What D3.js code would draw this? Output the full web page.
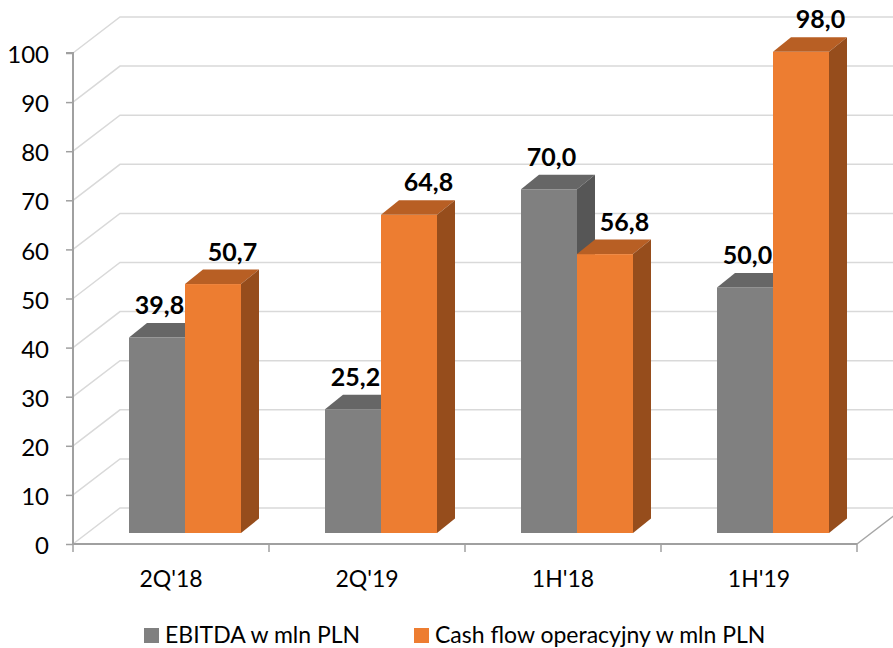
<!DOCTYPE html>
<html><head><meta charset="utf-8">
<script src="https://cdn.jsdelivr.net/npm/d3@7"></script>
<style>html,body{margin:0;padding:0;background:#fff;}svg{display:block;}</style>
</head><body>
<script>
const categories = ["2Q'18", "2Q'19", "1H'18", "1H'19"];
const seriesNames = ["EBITDA w mln PLN", "Cash flow operacyjny w mln PLN"];
const ebitda = [39.8, 25.2, 70.0, 50.0];
const cashFlow = [50.7, 64.8, 56.8, 98.0];
const yTicks = [0, 10, 20, 30, 40, 50, 60, 70, 80, 90, 100];

const W = 893, H = 648;
const font = "Lato, 'Open Sans', sans-serif";
const colors = [
  {front: "#808080", top: "#666666", side: "#565656"},
  {front: "#ed7d31", top: "#b85f24", side: "#964d1c"}
];
const series = [ebitda, cashFlow];

const svg = d3.select("body").append("svg").attr("width", W).attr("height", H);

// geometry
const axisX = 73, floorY = 544;
const depthDX = 47, depthDY = -36;     // back wall offset
const barDX = 14, barDY = -11;         // bar plane offset
const barDepthX = 18, barDepthY = -14.5; // bar thickness

const y = d3.scaleLinear().domain([0, 100]).range([floorY, 53]);
const x0 = d3.scaleBand().domain(categories).range([axisX, 857])
  .paddingInner(84/196).paddingOuter(42/196);
const x1 = d3.scaleBand().domain(seriesNames).range([0, x0.bandwidth()]);

// gridlines: left wall diagonal + back wall
const grid = svg.append("g");
yTicks.forEach(t => {
  const yy = y(t);
  grid.append("polyline")
    .attr("points", `${axisX},${yy} ${axisX+depthDX},${yy+depthDY} ${W+5},${yy+depthDY}`)
    .attr("fill", "none").attr("stroke", "#d9d9d9").attr("stroke-width", 1.5);
});
// floor right edge
grid.append("line").attr("x1", 857).attr("y1", floorY).attr("x2", 857+depthDX).attr("y2", floorY+depthDY)
  .attr("stroke", "#a6a6a6").attr("stroke-width", 1.5);

// bars
const bars = svg.append("g");
categories.forEach((c, i) => {
  seriesNames.forEach((s, j) => {
    const v = series[j][i];
    const col = colors[j];
    const bx = x0(c) + x1(s) + barDX;
    const bw = x1.bandwidth();
    const top = y(v) + barDY;
    const bot = y(0) + barDY;
    bars.append("rect").attr("x", bx).attr("y", top).attr("width", bw).attr("height", bot - top).attr("fill", col.front);
    bars.append("polygon")
      .attr("points", `${bx},${top} ${bx+barDepthX},${top+barDepthY} ${bx+bw+barDepthX},${top+barDepthY} ${bx+bw},${top}`)
      .attr("fill", col.top);
    bars.append("polygon")
      .attr("points", `${bx+bw},${top} ${bx+bw+barDepthX},${top+barDepthY} ${bx+bw+barDepthX},${bot+barDepthY} ${bx+bw},${bot}`)
      .attr("fill", col.side);
  });
});

// axes
const yAxis = d3.axisLeft(y).tickValues(yTicks).tickSize(7).tickPadding(17).tickFormat(d3.format("d"));
const gy = svg.append("g").attr("transform", `translate(${axisX},0)`).call(yAxis);
gy.select(".domain").attr("stroke", "#a0a0a0").attr("stroke-width", 2).attr("d", `M-7,${y(100)}H0V${floorY}`);
gy.selectAll(".tick line").attr("stroke", "#a0a0a0").attr("stroke-width", 1.5);
gy.selectAll(".tick text").attr("font-family", font).attr("font-size", 24).attr("fill", "#000").attr("dy", "0.4em");

const xAxis = d3.axisBottom(x0).tickSize(0).tickPadding(27);
const gx = svg.append("g").attr("transform", `translate(0,${floorY})`).call(xAxis);
gx.select(".domain").attr("stroke", "#a0a0a0").attr("stroke-width", 2).attr("d", `M${axisX},0H857`);
gx.selectAll(".tick text").attr("font-family", font).attr("font-size", 23).attr("fill", "#000");
const bounds = categories.map(c => x0(c) - x0.step()*x0.paddingOuter()).concat([857]);
gx.selectAll(".btick").data(bounds).enter().append("line")
  .attr("x1", d => d).attr("x2", d => d).attr("y1", 0).attr("y2", 8)
  .attr("stroke", "#a0a0a0").attr("stroke-width", 1.5);

// value labels
const labelShift = [2.5, 19.5];
const fmt = v => v.toFixed(1).replace(".", ",");
const labels = svg.append("g");
categories.forEach((c, i) => {
  seriesNames.forEach((s, j) => {
    const v = series[j][i];
    const bx = x0(c) + x1(s) + barDX;
    const top = y(v) + barDY + barDepthY;
    labels.append("text")
      .attr("x", bx + x1.bandwidth()/2 + labelShift[j])
      .attr("y", top - 9)
      .attr("text-anchor", "middle")
      .attr("font-family", font).attr("font-weight", "bold").attr("font-size", 25)
      .attr("fill", "#000").text(fmt(v));
  });
});

// legend
const legendX = [144, 414];
const leg = svg.append("g");
seriesNames.forEach((s, j) => {
  leg.append("rect").attr("x", legendX[j]).attr("y", 628).attr("width", 15).attr("height", 15).attr("fill", colors[j].front);
  leg.append("text").attr("x", legendX[j] + 21).attr("y", 643)
    .attr("font-family", font).attr("font-size", 23).attr("fill", "#000").text(s);
});
</script>
</body></html>
